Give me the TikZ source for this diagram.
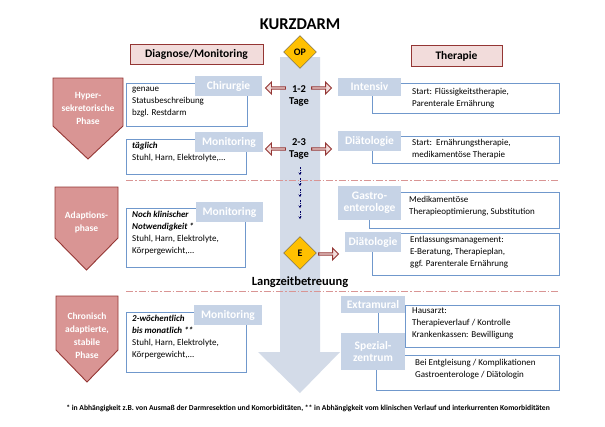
\documentclass[tikz,border=0pt]{standalone}
\usepackage{fontspec}
\setmainfont{Carlito}
\usetikzlibrary{shapes.geometric,shapes.arrows,arrows.meta}
\definecolor{pinkf}{HTML}{D99594}
\definecolor{pinkb}{HTML}{943634}
\definecolor{pinkl}{HTML}{F2DCDB}
\definecolor{lblue}{HTML}{C6D3E6}
\definecolor{bborder}{HTML}{7098CC}
\definecolor{bigarrow}{HTML}{D3DBE8}
\definecolor{diam}{HTML}{FFC000}
\tikzset{
 tbox/.style={draw=bborder,line width=0.9pt,fill=white},
 lab/.style={fill=lblue,text=white,font=\bfseries\fontsize{11.5}{12}\selectfont,align=center,inner sep=1pt},
 txt/.style={font=\fontsize{9}{12}\selectfont,align=left,anchor=north west,inner sep=0pt},
 head/.style={draw=pinkb,fill=pinkl,line width=0.9pt,font=\bfseries\fontsize{11.5}{12}\selectfont},
 phase/.style={fill=pinkf,draw=pinkb,line width=0.9pt},
 ptxt/.style={text=white,font=\bfseries\fontsize{9.5}{13}\selectfont,align=center},
 dia/.style={diamond,draw=gray!70!black,fill=diam,minimum size=33pt,inner sep=0pt,font=\bfseries\fontsize{10}{10}\selectfont},
 barr/.style={single arrow,draw=pinkb,fill=pinkl,line width=0.9pt,minimum height=20pt,minimum width=12pt,single arrow head extend=2pt,inner sep=0pt},
 sep/.style={draw=pinkf,dash pattern=on 7pt off 2pt on 1.5pt off 2pt,line width=0.7pt},
}
\begin{document}
\begin{tikzpicture}[x=1pt,y=-1pt]
\useasboundingbox[fill=white] (0,0) rectangle (605,426);
% big arrow
\path[fill=bigarrow] (280,57) -- (320,57) -- (320,352) -- (340,352) -- (300,393) -- (258,352) -- (280,352) -- cycle;
\node[font=\bfseries\fontsize{16.5}{18}\selectfont] (title) at (300,24) {KURZDARM};
\node[head,minimum width=133pt,minimum height=20pt,inner sep=1pt] (diag) at (196.5,54) {Diagnose/Monitoring};
\node[head,minimum width=91pt,minimum height=21pt] (ther) at (456.5,56) {Therapie};
\node[dia] (op) at (300,52) {OP};
\node[dia] (e) at (300,253) {E};
% separators
\draw[sep] (126,180) -- (559,180);
\draw[sep] (126,291) -- (559,291);
\node[font=\bfseries\fontsize{12.5}{13}\selectfont] (lz) at (300,282) {Langzeitbetreuung};
% phases
\draw[phase] (53,78) -- (123,78) -- (123,126) -- (88,159) -- (53,126) -- cycle;
\node[ptxt] (p1) at (88,108) {Hyper-\\sekretorische\\Phase};
\draw[phase] (55,187) -- (118,187) -- (118,238) -- (86.5,270) -- (55,238) -- cycle;
\node[ptxt] (p2) at (86.5,222) {Adaptions-\\phase};
\draw[phase] (56,296) -- (118,296) -- (118,350) -- (87,382) -- (56,350) -- cycle;
\node[ptxt] (p3) at (87,336) {Chronisch\\adaptierte,\\stabile\\Phase};
% left boxes
\draw[tbox] (126,83) rectangle (247,126);
\node[txt] (l1) at (132,87) {genaue\\Statusbeschreibung\\bzgl. Restdarm};
\node[lab,minimum width=67pt,minimum height=20pt] (chir) at (228.5,86) {Chirurgie};
\draw[tbox] (126,139) rectangle (246,174);
\node[txt] (l2) at (132,142) {\textit{\textbf{täglich}}\\Stuhl, Harn, Elektrolyte,...};
\node[lab,minimum width=68pt,minimum height=20pt] (mon1) at (229,142) {Monitoring};
\draw[tbox] (126,208) rectangle (245,267);
\node[txt] (l3) at (132,211) {\textit{\textbf{Noch klinischer}}\\\textit{\textbf{Notwendigkeit *}}\\Stuhl, Harn, Elektrolyte,\\Körpergewicht,...};
\node[lab,minimum width=67pt,minimum height=20pt] (mon2) at (229.5,212) {Monitoring};
\draw[tbox] (126,312) rectangle (246,372);
\node[txt] (l4) at (132,315) {\textit{\textbf{2-wöchentlich}}\\\textit{\textbf{bis monatlich **}}\\Stuhl, Harn, Elektrolyte,\\Körpergewicht,...};
\node[lab,minimum width=68pt,minimum height=20pt] (mon3) at (228,315) {Monitoring};
% right boxes
\draw[tbox] (372,83) rectangle (559,113);
\node[txt] (r1) at (412,88) {Start: Flüssigkeitstherapie,\\Parenterale Ernährung};
\node[lab,minimum width=63pt,minimum height=18pt] (int) at (369.5,87) {Intensiv};
\draw[tbox] (372,136) rectangle (559,163);
\node[txt] (r2) at (412,139) {Start:\ \ Ernährungstherapie,\\medikamentöse Therapie};
\node[lab,minimum width=63pt,minimum height=20pt] (dia1) at (369.5,141) {Diätologie};
\draw[tbox] (369,192) rectangle (559,228);
\node[txt] (r3) at (409,196) {Medikamentöse\\Therapieoptimierung, Substitution};
\node[lab,minimum width=63pt,minimum height=34pt] (gas) at (369.5,203) {Gastro-\\enterologe};
\draw[tbox] (372,233) rectangle (559,275);
\node[txt] (r4) at (410,236) {Entlassungsmanagement:\\E-Beratung, Therapieplan,\\ggf. Parenterale Ernährung};
\node[lab,minimum width=56pt,minimum height=20pt] (dia2) at (373,242) {Diätologie};
\draw[tbox] (405,305) rectangle (559,347);
\node[txt] (r5) at (412,308) {Hausarzt:\\Therapieverlauf / Kontrolle\\Krankenkassen: Bewilligung};
\draw[tbox] (376,355) rectangle (559,390);
\node[txt] (r6) at (415,359) {Bei Entgleisung / Komplikationen\\Gastroenterologe / Diätologin};
\node[lab,minimum width=64pt,minimum height=17pt] (ext) at (373,304.5) {Extramural};
\node[lab,minimum width=64pt,minimum height=37pt] (spz) at (373,351.5) {Spezial-\\zentrum};
\draw[bborder,line width=0.9pt] (ext.south -| 378,0) -- (spz.north -| 378,0);
% days
\node[font=\bfseries\fontsize{10.5}{12}\selectfont,align=center] (d1) at (299,96) {1-2\\Tage};
\node[font=\bfseries\fontsize{10.5}{12}\selectfont,align=center] (d2) at (299,149) {2-3\\Tage};
\node[barr,shape border rotate=180] (a1l) at (276,88) {};
\node[barr] (a1r) at (321,88) {};
\node[barr,shape border rotate=180] (a2l) at (276,149) {};
\node[barr] (a2r) at (321,149) {};
\node[barr] (ae) at (328,254) {};
% dotted arrows
\foreach \y [count=\i] in {167,178,189,200,211}{
 \coordinate (s\i) at (300,\y); \coordinate (t\i) at (300,\y+8);
 \draw[-{Stealth[length=2.5pt,width=3pt]},line width=0.8pt,dash pattern=on 1.5pt off 1pt,blue!40!black] (s\i) -- (t\i);}
\node[font=\bfseries\fontsize{7.6}{8}\selectfont] (fn) at (308,408) {* in Abhängigkeit z.B. von Ausmaß der Darmresektion und Komorbiditäten, ** in Abhängigkeit vom klinischen Verlauf und interkurrenten Komorbiditäten};
\end{tikzpicture}
\end{document}
